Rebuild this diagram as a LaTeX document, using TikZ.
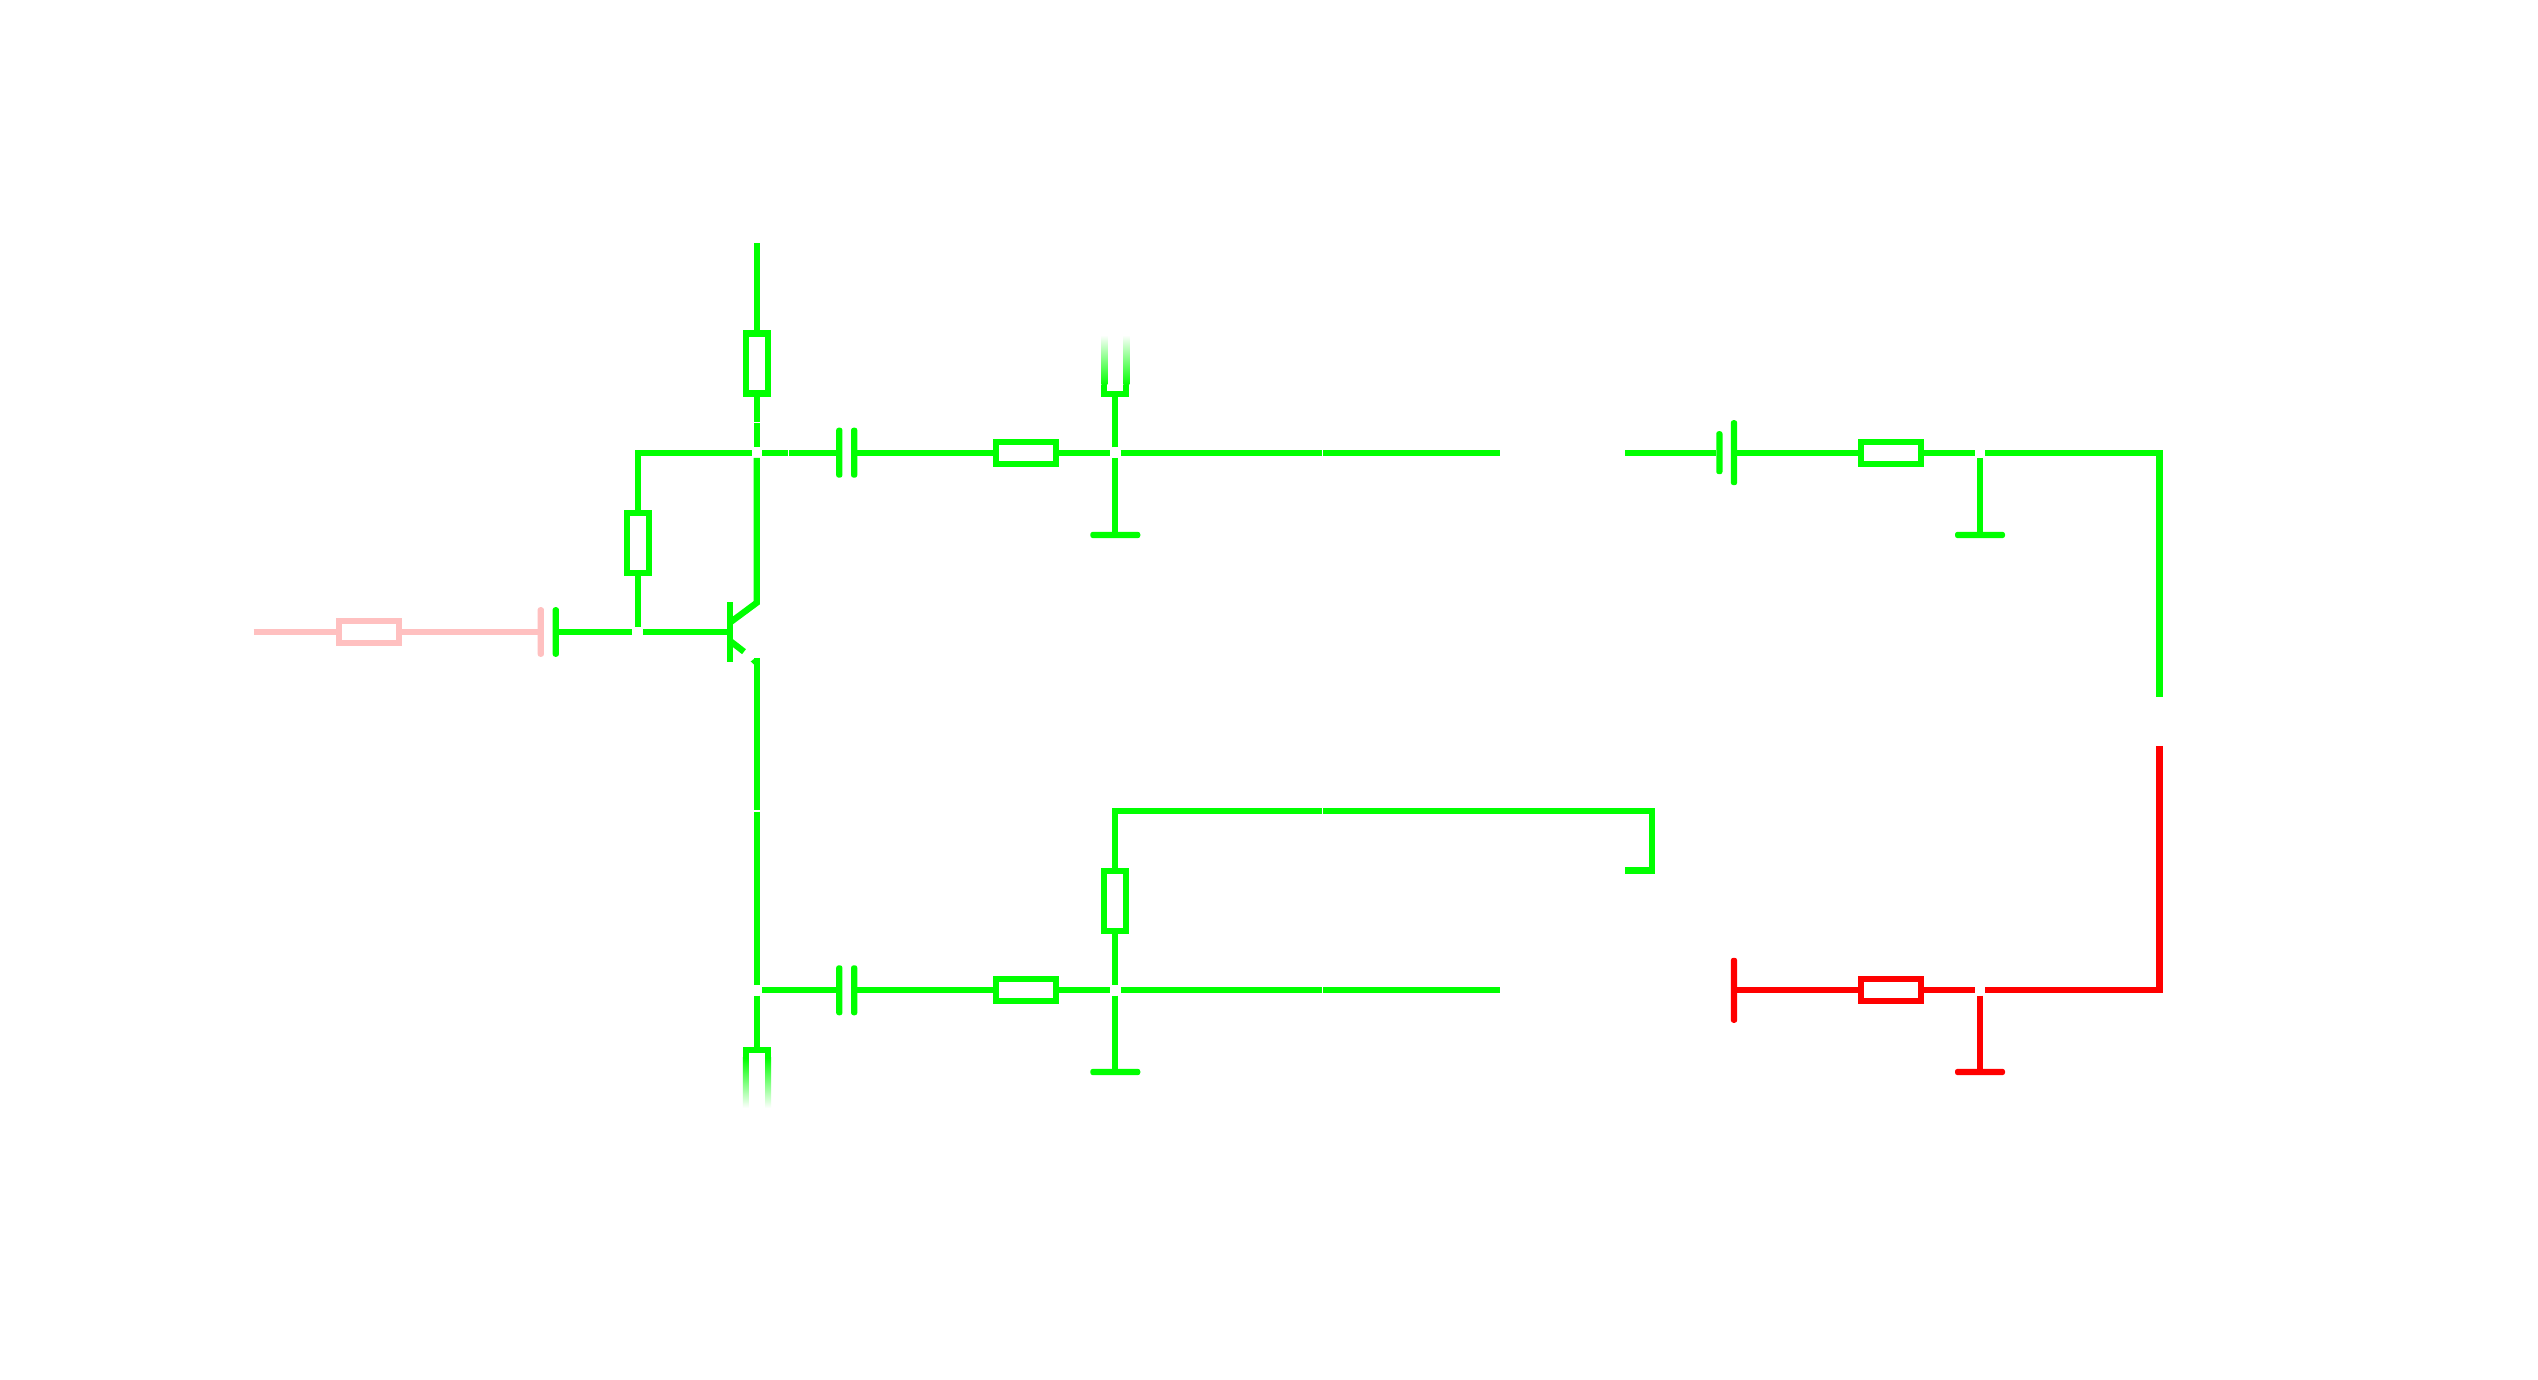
\documentclass[tikz,border=0pt]{standalone}
\definecolor{wg}{HTML}{00FF00}
\definecolor{wr}{HTML}{FF0000}
\definecolor{wp}{HTML}{FFC0C0}
\tikzset{
  wire/.style={line width=0.063cm,line cap=butt,line join=miter},
  resh/.style={draw,fill=white,rectangle,line width=0.063cm,minimum width=0.6cm,minimum height=0.22cm,inner sep=0pt},
  resv/.style={draw,fill=white,rectangle,line width=0.063cm,minimum width=0.22cm,minimum height=0.6cm,inner sep=0pt},
  plate/.style={rectangle,rounded corners=0.025cm,minimum width=0.063cm,inner sep=0pt,outer sep=0pt},
  gndbar/.style={rectangle,rounded corners=0.025cm,fill=wg,minimum width=0.5cm,minimum height=0.063cm,inner sep=0pt,outer sep=0pt},
  junction/.style={circle,minimum size=0.105cm,inner sep=0pt,outer sep=0pt},
  nick/.style={rectangle,minimum size=0.015cm,inner sep=0pt,outer sep=0pt},
}
\begin{document}
\begin{tikzpicture}[x=0.01cm,y=-0.01cm]
\useasboundingbox (0,0) rectangle (2538,1380);
\fill[white] (0,0) rectangle (2538,1380);
% junctions
\node[junction] (jB) at (637.7,632) {};
\node[junction] (jT) at (756.8,452.7) {};
\node[junction] (jM) at (1115.3,452.7) {};
\node[junction] (jR) at (1980,452.7) {};
\node[junction] (jE) at (756.8,990.3) {};
\node[junction] (jN) at (1115.3,990.3) {};
\node[junction] (jQ) at (1980,990.3) {};
% segment joints
\node[nick] (n1) at (756.8,422.7) {};
\node[nick] (n2) at (788.7,452.7) {};
\node[nick] (n3) at (1322.3,452.7) {};
\node[nick] (n4) at (756.8,811) {};
\node[nick] (n5) at (1322.3,990.3) {};
\node[nick] (n6) at (1322.3,810.7) {};
% resistors
\node[resh,draw=wp] (rA) at (369,632) {};
\node[resh,draw=wg] (rB) at (1025.8,452.7) {};
\node[resh,draw=wg] (rC) at (1025.8,990.3) {};
\node[resh,draw=wg] (rD) at (1890.8,452.7) {};
\node[resh,draw=wr] (rE) at (1890.8,990.3) {};
\node[resv,draw=wg] (rF) at (756.8,363.6) {};
\node[resv,draw=wg] (rG) at (637.7,542.7) {};
\node[resv,draw=wg] (rH) at (1115.3,901) {};
% capacitor plates
\node[plate,fill=wp,minimum height=0.495cm] (pA) at (540.8,632) {};
\node[plate,fill=wg,minimum height=0.495cm] (pB) at (555.8,632) {};
\node[plate,fill=wg,minimum height=0.5cm] (pC) at (839.3,452.7) {};
\node[plate,fill=wg,minimum height=0.5cm] (pD) at (854.2,452.7) {};
\node[plate,fill=wg,minimum height=0.5cm] (pE) at (839.3,990.3) {};
\node[plate,fill=wg,minimum height=0.5cm] (pF) at (854.2,990.3) {};
\node[plate,fill=wg,minimum height=0.43cm] (pG) at (1719.4,452.7) {};
\node[plate,fill=wg,minimum height=0.65cm] (pH) at (1734,452.7) {};
\node[plate,fill=wr,minimum height=0.65cm] (pI) at (1734,990.3) {};
% ground bars
\node[gndbar] (gA) at (1115.3,535) {};
\node[gndbar] (gB) at (1115.3,1072) {};
\node[gndbar] (gC) at (1980,535) {};
\node[gndbar,fill=wr] (gD) at (1980,1072) {};
% transistor base
\node[rectangle,fill=wg,minimum width=0.063cm,minimum height=0.6cm,inner sep=0pt,outer sep=0pt] (qB) at (729.8,632) {};
% free ends and corners
\coordinate (inL) at (253.7,632);
\coordinate (vcc) at (756.8,243.3);
\coordinate (cB) at (637.7,452.7);
\coordinate (qC) at (729.8,622.7);
\coordinate (qK) at (756.8,602.7);
\coordinate (qE) at (729.8,640.7);
\coordinate (qA) at (744,651.7);
\coordinate (eT) at (756.8,658);
\coordinate (cN) at (1115.3,810.7);
\coordinate (cH) at (1651.8,810.7);
\coordinate (eH) at (1625,870.5);
\coordinate (eA) at (1500,452.7);
\coordinate (eB) at (1625,452.7);
\coordinate (eC) at (1500,990.3);
\coordinate (cR) at (2159.5,452.7);
\coordinate (eG) at (2159.5,696.9);
\coordinate (eR) at (2159.5,746);
\coordinate (cS) at (2159.5,990.3);
\coordinate (iT) at (1115.3,396.7);
\coordinate (iB) at (756.8,1047);
% pink input
\draw[wire,wp] (inL) -- (rA);
\draw[wire,wp] (rA) -- (pA);
% base
\draw[wire,wg] (pB) -- (jB);
\draw[wire,wg] (jB) -- (qB);
\draw[wire,wg] (jB) -- (rG);
\draw[wire,wg] (rG) -- (cB) -- (jT);
% collector rail
\draw[wire,wg] (vcc) -- (rF);
\draw[wire,wg] (rF) -- (n1);
\draw[wire,wg] (n1) -- (jT);
\draw[wire,wg] (jT) -- (n2);
\draw[wire,wg] (n2) -- (pC);
\draw[wire,wg] (jT) -- (qK) -- (qC);
\draw[wire,wg] (qE) -- (qA);
% emitter rail
\draw[wire,wg] (eT) -- (n4);
\fill[wg] (750.7,661.5) -- (754,659) -- (754,664.5) -- cycle;
\draw[wire,wg] (n4) -- (jE);
\draw[wire,wg] (jE) -- (iB);
\draw[wire,wg] (jE) -- (pE);
\draw[wire,wg] (pF) -- (rC);
\draw[wire,wg] (rC) -- (jN);
\draw[wire,wg] (jN) -- (rH);
\draw[wire,wg] (jN) -- (gB);
\draw[wire,wg] (jN) -- (n5);
\draw[wire,wg] (n5) -- (eC);
\draw[wire,wg] (rH) -- (cN) -- (n6);
\draw[wire,wg] (n6) -- (cH) |- (eH);
% top row
\draw[wire,wg] (pD) -- (rB);
\draw[wire,wg] (rB) -- (jM);
\draw[wire,wg] (jM) -- (iT);
\draw[wire,wg] (jM) -- (gA);
\draw[wire,wg] (jM) -- (n3);
\draw[wire,wg] (n3) -- (eA);
\draw[wire,wg] (eB) -- (pG);
\draw[wire,wg] (pH) -- (rD);
\draw[wire,wg] (rD) -- (jR);
\draw[wire,wg] (jR) -- (gC);
\draw[wire,wg] (jR) -- (cR) -- (eG);
% red part
\draw[wire,wr] (eR) -- (cS) -- (jQ);
\draw[wire,wr] (jQ) -- (gD);
\draw[wire,wr] (jQ) -- (rE);
\draw[wire,wr] (rE) -- (pI);
% fading resistor above the middle junction
\fill[wg] (1101.3,396.7) rectangle (1129.4,390.7);
\fill[wg] (1101.3,390.7) rectangle (1107.3,385);
\fill[wg] (1123.4,390.7) rectangle (1129.4,385);
\shade[top color=white,bottom color=wg] (1101.3,335) rectangle (1107.3,385);
\shade[top color=white,bottom color=wg] (1123.4,335) rectangle (1129.4,385);
% fading resistor below the emitter junction
\fill[wg] (742.8,1047) rectangle (771,1053);
\fill[wg] (742.8,1053) rectangle (748.8,1058);
\fill[wg] (765,1053) rectangle (771,1058);
\shade[top color=wg,bottom color=white] (742.8,1058) rectangle (748.8,1108);
\shade[top color=wg,bottom color=white] (765,1058) rectangle (771,1108);
\end{tikzpicture}
\end{document}
